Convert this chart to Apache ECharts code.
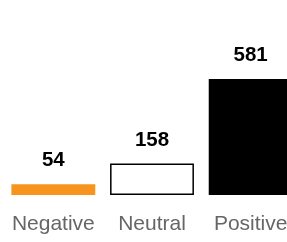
<!DOCTYPE html>
<html lang="en">
<head>
    <meta charset="UTF-8">
    <title>Sentiment</title>
    <script type="text/javascript" src="https://cdn.jsdelivr.net/npm/echarts@6/dist/echarts.min.js"></script>
    <style>
        html,body{margin:0;padding:0;background:#fff;overflow:hidden;width:287px;height:242px;}
        #wrap{width:287px;height:242px;overflow:hidden;position:relative;}
    </style>
</head>
<body>
<!-- chart is wider than the window: the right bar is cut off in the original -->
<div id="wrap"><div id="main" style="width: 300px; height: 242px"></div></div>

<script type="text/javascript">
    var myChart = echarts.init(document.getElementById('main'));

    // data
    var categories = ['Negative', 'Neutral', 'Positive'];
    var counts = [54, 158, 581];
    var barColors = ['#f7941d', '#ffffff', '#000000'];

    var barData = [];
    for (var i = 0; i < counts.length; i++) {
        barData.push({
            value: counts[i],
            itemStyle: {
                color: barColors[i],
                borderColor: i === 1 ? '#000' : barColors[i],
                borderWidth: i === 1 ? 1.5 : 0
            }
        });
    }

    var option = {
        animation: false,
        grid: { left: 4, right: 0, top: 79, bottom: 47 },
        xAxis: {
            type: 'category',
            data: categories,
            axisLine: { show: false },
            axisTick: { show: false },
            axisLabel: {
                interval: 0,
                color: '#666',
                fontSize: 21,
                fontFamily: 'Liberation Sans',
                margin: 19
            }
        },
        yAxis: {
            type: 'value',
            min: 0,
            max: 581,
            show: false
        },
        series: [{
            type: 'bar',
            data: barData,
            barCategoryGap: '15%',
            label: {
                show: true,
                position: 'top',
                distance: 13,
                color: '#000',
                fontSize: 20.5,
                fontWeight: 'bold',
                fontFamily: 'Liberation Sans'
            }
        }]
    };

    myChart.setOption(option);
</script>
</body>
</html>
